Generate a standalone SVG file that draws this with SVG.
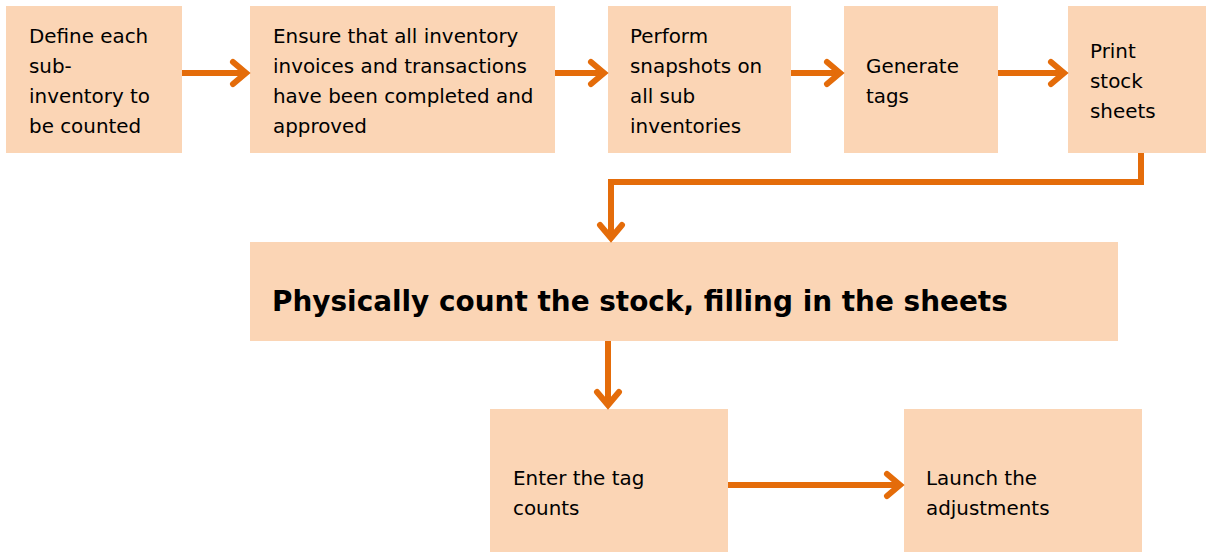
<svg xmlns="http://www.w3.org/2000/svg" width="1206" height="552" viewBox="0 0 1206 552">
<style>
.box{fill:#FBD5B5}
.t{font-family:"DejaVu Sans","Liberation Sans",sans-serif;font-size:19.9px;fill:#000}
.b{font-family:"DejaVu Sans","Liberation Sans",sans-serif;font-size:27.9px;font-weight:bold;fill:#000}
.c{fill:none;stroke:#E46C0A;stroke-width:6}
.h{fill:none;stroke:#E46C0A;stroke-width:6;stroke-linecap:round;stroke-linejoin:miter}
</style>
<rect width="1206" height="552" fill="#fff"/>
<g id="n1"><rect class="box" x="6" y="6" width="176" height="147"/>
<text class="t" x="29" y="43">Define each</text><text class="t" x="29" y="73">sub-</text><text class="t" x="29" y="103">inventory to</text><text class="t" x="29" y="133">be counted</text></g>
<g id="n2"><rect class="box" x="250" y="6" width="305" height="147"/>
<text class="t" x="273" y="43">Ensure that all inventory</text><text class="t" x="273" y="73">invoices and transactions</text><text class="t" x="273" y="103">have been completed and</text><text class="t" x="273" y="133">approved</text></g>
<g id="n3"><rect class="box" x="608" y="6" width="183" height="147"/>
<text class="t" x="630" y="43">Perform</text><text class="t" x="630" y="73">snapshots on</text><text class="t" x="630" y="103">all sub</text><text class="t" x="630" y="133">inventories</text></g>
<g id="n4"><rect class="box" x="844" y="6" width="154" height="147"/>
<text class="t" x="866" y="73">Generate</text><text class="t" x="866" y="103">tags</text></g>
<g id="n5"><rect class="box" x="1068" y="6" width="138" height="147"/>
<text class="t" x="1090" y="58">Print</text><text class="t" x="1090" y="88">stock</text><text class="t" x="1090" y="118">sheets</text></g>
<g id="n6"><rect class="box" x="250" y="242" width="868" height="99"/>
<text class="b" x="272" y="311">Physically count the stock, filling in the sheets</text></g>
<g id="n7"><rect class="box" x="490" y="409" width="238" height="143"/>
<text class="t" x="513" y="485">Enter the tag</text><text class="t" x="513" y="515">counts</text></g>
<g id="n8"><rect class="box" x="904" y="409" width="238" height="143"/>
<text class="t" x="926" y="485">Launch the</text><text class="t" x="926" y="515">adjustments</text></g>
<g id="connectors">
<path class="c" d="M182 73H245"/><path class="h" d="M233 62L246 73L233 84"/>
<path class="c" d="M555 73H603"/><path class="h" d="M591 62L604 73L591 84"/>
<path class="c" d="M791 73H839"/><path class="h" d="M827 62L840 73L827 84"/>
<path class="c" d="M998 73H1063"/><path class="h" d="M1051 62L1064 73L1051 84"/>
<path class="c" d="M1141 153V182H611V237"/><path class="h" d="M600 225L611 238L622 225"/>
<path class="c" d="M608 341V404"/><path class="h" d="M597 392L608 405L619 392"/>
<path class="c" d="M728 485H899"/><path class="h" d="M887 474L900 485L887 496"/>
</g>
</svg>
